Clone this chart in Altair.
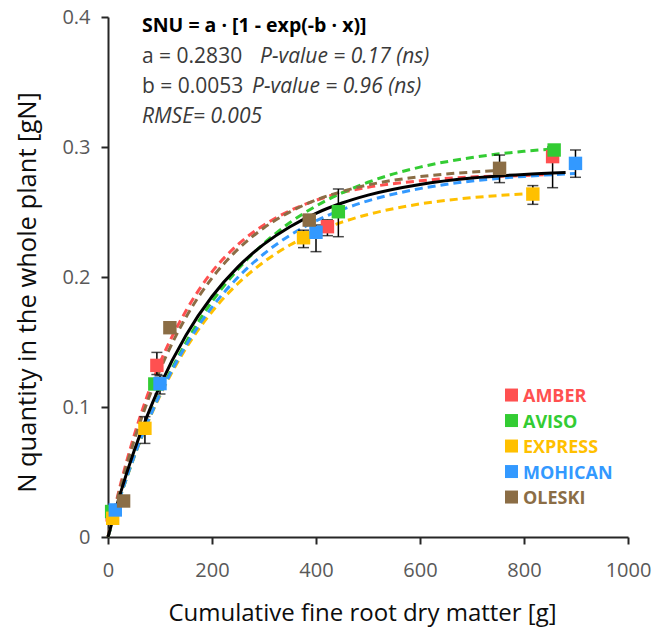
import altair as alt
import pandas as pd

FONT = "Open Sans"

cultivars = ["AMBER", "AVISO", "EXPRESS", "MOHICAN", "OLESKI"]
colors = ["#FF5050", "#33CC33", "#FFC000", "#3399FF", "#8B6D45"]

# observed points (x = cumulative fine root dry matter, y = N quantity, lo/hi = error bar ends, 0 = none)
amber_x = [8, 94, 422, 855]
amber_y = [0.017, 0.132, 0.2387, 0.2926]
amber_lo = [0, 0.125, 0.2318, 0.2687]
amber_hi = [0, 0.142, 0.244, 0.300]

aviso_x = [7, 90, 443, 858]
aviso_y = [0.0196, 0.1177, 0.2502, 0.2977]
aviso_lo = [0, 0, 0.231, 0]
aviso_hi = [0, 0, 0.2677, 0]

express_x = [9, 71, 376, 817]
express_y = [0.0144, 0.0836, 0.2302, 0.2638]
express_lo = [0, 0.072, 0.2226, 0.2559]
express_hi = [0, 0.0926, 0.236, 0.2703]

mohican_x = [14, 100, 400, 899]
mohican_y = [0.0208, 0.118, 0.2344, 0.2874]
mohican_lo = [0, 0.110, 0.2195, 0.2767]
mohican_hi = [0, 0.124, 0.240, 0.2977]

oleski_x = [30, 119, 387, 753]
oleski_y = [0.0277, 0.161, 0.2438, 0.2836]
oleski_lo = [0, 0, 0, 0.2726]
oleski_hi = [0, 0, 0, 0.2938]

# fitted curves per cultivar
amber_fit_x = [0, 25, 50, 75, 100, 150, 200, 250, 300, 350, 400, 450, 500, 600, 700, 800, 855]
amber_fit_y = [0, 0.042, 0.0777, 0.108, 0.134, 0.174, 0.204, 0.225, 0.240, 0.251, 0.259, 0.265, 0.269, 0.274, 0.277, 0.278, 0.279]

aviso_fit_x = [0, 25, 50, 75, 100, 150, 200, 250, 300, 350, 400, 450, 500, 600, 700, 800, 858]
aviso_fit_y = [0, 0.0325, 0.0615, 0.0873, 0.1105, 0.1497, 0.1810, 0.2060, 0.2259, 0.2419, 0.2546, 0.2647, 0.2729, 0.2845, 0.2919, 0.2967, 0.2986]

express_fit_x = [0, 25, 50, 75, 100, 150, 200, 250, 300, 350, 400, 450, 500, 600, 700, 817]
express_fit_y = [0, 0.0327, 0.0613, 0.0866, 0.1087, 0.1452, 0.1733, 0.1950, 0.2117, 0.2246, 0.2345, 0.2422, 0.2481, 0.2562, 0.2610, 0.2642]

mohican_fit_x = [0, 25, 50, 75, 100, 150, 200, 250, 300, 350, 400, 450, 500, 600, 700, 800, 899]
mohican_fit_y = [0, 0.0326, 0.0615, 0.0871, 0.1096, 0.1473, 0.1768, 0.1998, 0.2179, 0.2321, 0.2431, 0.2518, 0.2586, 0.2680, 0.2738, 0.2774, 0.2796]

oleski_fit_x = [0, 25, 50, 75, 100, 150, 200, 250, 300, 350, 400, 450, 500, 600, 700, 752]
oleski_fit_y = [0, 0.0397, 0.0739, 0.1033, 0.1286, 0.1691, 0.1992, 0.2214, 0.2379, 0.2501, 0.2592, 0.2658, 0.2708, 0.2772, 0.2807, 0.2819]

# overall fitted model curve
model_x = [0, 25, 50, 75, 100, 150, 200, 250, 300, 350, 400, 450, 500, 600, 700, 800, 880]
model_y = [0, 0.0351, 0.0659, 0.0928, 0.1164, 0.1552, 0.1850, 0.2078, 0.2253, 0.2387, 0.2490, 0.2569, 0.2630, 0.2712, 0.2761, 0.2789, 0.2803]

x_ticks = [0, 200, 400, 600, 800, 1000]
y_ticks = [0, 0.1, 0.2, 0.3, 0.4]

# ---- build tables
pts_src = [
    ("AMBER", amber_x, amber_y, amber_lo, amber_hi),
    ("AVISO", aviso_x, aviso_y, aviso_lo, aviso_hi),
    ("EXPRESS", express_x, express_y, express_lo, express_hi),
    ("MOHICAN", mohican_x, mohican_y, mohican_lo, mohican_hi),
    ("OLESKI", oleski_x, oleski_y, oleski_lo, oleski_hi),
]
rows = []
for i, (c, xs, ys, los, his) in enumerate(pts_src):
    for x, y, lo, hi in zip(xs, ys, los, his):
        rows.append({"cultivar": c, "order": i, "x": x, "y": y, "lo": lo, "hi": hi})
pts = pd.DataFrame(rows)
errs = pts[pts["hi"] > 0].copy()

fit_src = [
    ("AMBER", amber_fit_x, amber_fit_y),
    ("AVISO", aviso_fit_x, aviso_fit_y),
    ("EXPRESS", express_fit_x, express_fit_y),
    ("MOHICAN", mohican_fit_x, mohican_fit_y),
    ("OLESKI", oleski_fit_x, oleski_fit_y),
]
frows = []
for i, (c, xs, ys) in enumerate(fit_src):
    for x, y in zip(xs, ys):
        frows.append({"cultivar": c, "order": i, "x": x, "y": y})
fits = pd.DataFrame(frows)
model = pd.DataFrame({"x": model_x, "y": model_y})
leg = pd.DataFrame({"cultivar": cultivars, "idx": list(range(len(cultivars)))})

color = alt.Color("cultivar:N", scale=alt.Scale(domain=cultivars, range=colors), legend=None)

xscale = alt.Scale(domain=[0, 1000], nice=False, zero=False)
yscale = alt.Scale(domain=[0, 0.4], nice=False, zero=False)

X = alt.X("x:Q", scale=xscale, axis=alt.Axis(
    values=x_ticks, format="d", title="Cumulative fine root dry matter [g]",
    grid=False, labelFlush=False, domainColor="#262626", domainWidth=2,
    tickColor="#262626", tickWidth=2, tickSize=7,
    labelFont=FONT, labelFontSize=20, labelColor="#595959",
    labelBaseline="alphabetic", labelPadding=32,
    titleFont=FONT, titleFontSize=24, titleFontWeight="normal", titleColor="#0D0D0D",
    titleX=254, titleY=83, titleBaseline="alphabetic", titleAnchor="middle", titleAlign="center"))
Y = alt.Y("y:Q", scale=yscale, axis=alt.Axis(
    values=y_ticks, labelExpr="datum.value == 0 ? '0' : format(datum.value, '.1f')",
    title="N quantity in the whole plant [gN]",
    grid=False, labelFlush=False, domainColor="#262626", domainWidth=2,
    tickColor="#262626", tickWidth=2, tickSize=7,
    labelFont=FONT, labelFontSize=20, labelColor="#595959", labelPadding=11,
    titleFont=FONT, titleFontSize=25.5, titleFontWeight="normal", titleColor="#0D0D0D",
    titleX=-73, titleY=275, titleAngle=270, titleBaseline="alphabetic", titleAlign="center"))

fit_lines = alt.Chart(fits).mark_line(strokeWidth=3, strokeDash=[8, 5], interpolate="monotone").encode(
    x=X, y=Y, color=color, detail="cultivar:N", order="x:Q")

model_line = alt.Chart(model).mark_line(color="black", strokeWidth=3, interpolate="monotone").encode(
    x=alt.X("x:Q", scale=xscale), y=alt.Y("y:Q", scale=yscale))

err_rule = alt.Chart(errs).mark_rule(color="black", strokeWidth=1.5).encode(
    x=alt.X("x:Q", scale=xscale), y=alt.Y("lo:Q", scale=yscale), y2="hi:Q")
err_lo = alt.Chart(errs).mark_tick(orient="horizontal", color="black", size=11, thickness=1.5).encode(
    x=alt.X("x:Q", scale=xscale), y=alt.Y("lo:Q", scale=yscale))
err_hi = alt.Chart(errs).mark_tick(orient="horizontal", color="black", size=11, thickness=1.5).encode(
    x=alt.X("x:Q", scale=xscale), y=alt.Y("hi:Q", scale=yscale))

squares = alt.Chart(pts).mark_square(size=180, opacity=1, filled=True).encode(
    x=alt.X("x:Q", scale=xscale), y=alt.Y("y:Q", scale=yscale), color=color, order="order:Q")

# legend drawn inside the plot
leg_sq = alt.Chart(leg).transform_calculate(
    lx="776", ly="0.1092 - 0.019615 * datum.idx").mark_square(size=169, opacity=1, filled=True).encode(
    x=alt.X("lx:Q", scale=xscale), y=alt.Y("ly:Q", scale=yscale), color=color)
leg_tx = alt.Chart(leg).transform_calculate(
    lx="798", ly="0.1092 - 0.019615 * datum.idx").mark_text(
    align="left", baseline="alphabetic", dy=7, font=FONT, fontSize=18, fontWeight="bold").encode(
    x=alt.X("lx:Q", scale=xscale), y=alt.Y("ly:Q", scale=yscale), text="cultivar:N", color=color)

one = pd.DataFrame({"k": [0]})


def label(txt, px, py, weight="normal", style="normal", col="#3A3A3A", size=21):
    return alt.Chart(one).mark_text(
        align="left", baseline="alphabetic", font=FONT, fontSize=size,
        fontWeight=weight, fontStyle=style, color=col).encode(
        x=alt.value(px), y=alt.value(py), text=alt.value(txt))


ann = [
    label("SNU = a · [1 - exp(-b · x)]", 34, 15, weight="bold", col="#000000", size=19.5),
    label("a = 0.2830", 34, 46),
    label("P-value = 0.17 (ns)", 152, 46, style="italic"),
    label("b = 0.0053", 34, 76),
    label("P-value = 0.96 (ns)", 144, 76, style="italic"),
    label("RMSE= 0.005", 34, 106, style="italic"),
]

chart = alt.layer(fit_lines, model_line, err_rule, err_lo, err_hi, squares, leg_sq, leg_tx, *ann).properties(
    width=520, height=520,
    autosize=alt.AutoSizeParams(type="none"),
    padding={"left": 108, "top": 17, "right": 29, "bottom": 95},
    background="white",
).configure_view(stroke=None)

chart.save("out.html", embed_options={"renderer": "svg", "actions": False})
